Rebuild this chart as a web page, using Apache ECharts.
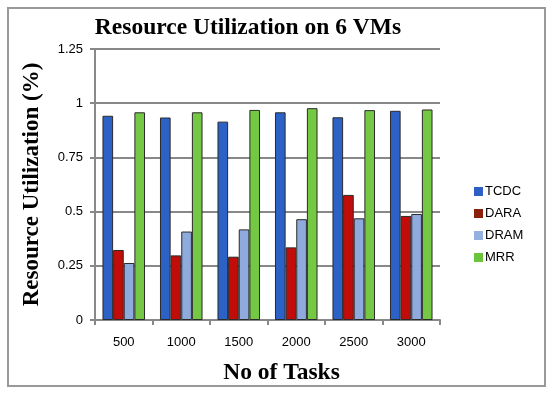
<!DOCTYPE html>
<html><head><meta charset="utf-8">
<script src="https://cdn.jsdelivr.net/npm/echarts@6/dist/echarts.min.js"></script>
<style>html,body{margin:0;padding:0;background:#fff}#c{width:550px;height:395px}</style>
</head><body><div id="c"></div>
<script>
const categories = ['500','1000','1500','2000','2500','3000'];
const seriesNames = ['TCDC','DARA','DRAM','MRR'];
const tcdc = [0.942, 0.934, 0.915, 0.958, 0.935, 0.965];
const dara = [0.323, 0.298, 0.292, 0.335, 0.577, 0.480];
const dram = [0.263, 0.408, 0.418, 0.465, 0.469, 0.489];
const mrr  = [0.958, 0.958, 0.969, 0.977, 0.968, 0.971];
const yTicks = [0, 0.25, 0.5, 0.75, 1, 1.25];

const colors = ['#2c62c6', '#c00d0a', '#8fabdd', '#74c844'];
const legendColors = ['#2f5fc4', '#8b1f0c', '#94b0e0', '#6cc43c'];
const dataSets = [tcdc, dara, dram, mrr];

const chart = echarts.init(document.getElementById('c'), null, {renderer:'canvas'});
chart.setOption({
  animation: false,
  backgroundColor: '#fff',
  graphic: [{
    type: 'rect', shape: {x: 8, y: 8, width: 537, height: 378},
    style: {fill: 'none', stroke: '#999', lineWidth: 2}, silent: true
  }],
  title: {
    text: 'Resource Utilization on 6 VMs', left: 243, top: 11, textAlign: 'center',
    textStyle: {fontFamily: 'Liberation Serif', fontWeight: 'bold', fontSize: 23.5, color: '#000'}
  },
  legend: {
    orient: 'vertical', left: 469, top: 180, itemGap: 9, itemWidth: 9, itemHeight: 9,
    icon: 'rect',
    textStyle: {fontFamily: 'Liberation Sans', fontSize: 13, color: '#000', padding: [0,0,0,-3]},
    data: seriesNames.map((n,i)=>({name:n, itemStyle:{color:legendColors[i], borderWidth:0}}))
  },
  grid: {left: 95, right: 110, top: 49, bottom: 75, containLabel: false},
  xAxis: {
    type: 'category', data: categories,
    name: 'No of Tasks', nameLocation: 'middle', nameGap: 41,
    nameTextStyle: {fontFamily: 'Liberation Serif', fontWeight: 'bold', fontSize: 23.5, color: '#000',
      padding: [0,0,0,28]},
    axisLine: {lineStyle: {color: '#888', width: 2}},
    axisTick: {show: true, alignWithLabel: false, length: 5, lineStyle: {color: '#888', width: 2}},
    axisLabel: {fontFamily: 'Liberation Sans', fontSize: 13, color: '#000', margin: 16}
  },
  yAxis: {
    type: 'value', min: 0, max: 1.25, interval: 0.25,
    name: 'Resource Utilization (%)', nameLocation: 'middle', nameGap: 51,
    nameTextStyle: {fontFamily: 'Liberation Serif', fontWeight: 'bold', fontSize: 23, color: '#000'},
    axisLine: {show: true, lineStyle: {color: '#888', width: 2}},
    axisTick: {show: true, length: 5, lineStyle: {color: '#888', width: 2}},
    axisLabel: {fontFamily: 'Liberation Sans', fontSize: 13, color: '#000', margin: 12,
      formatter: v => yTicks.includes(v) ? String(v) : ''},
    splitLine: {show: true, lineStyle: {color: '#888', width: 2}}
  },
  series: seriesNames.map((n,i)=>({
    name: n, type: 'bar', data: dataSets[i], barGap: '0%', barCategoryGap: '26%',
    itemStyle: {color: colors[i], borderColor: '#2a2a2a', borderWidth: 1}
  }))
});
</script></body></html>
